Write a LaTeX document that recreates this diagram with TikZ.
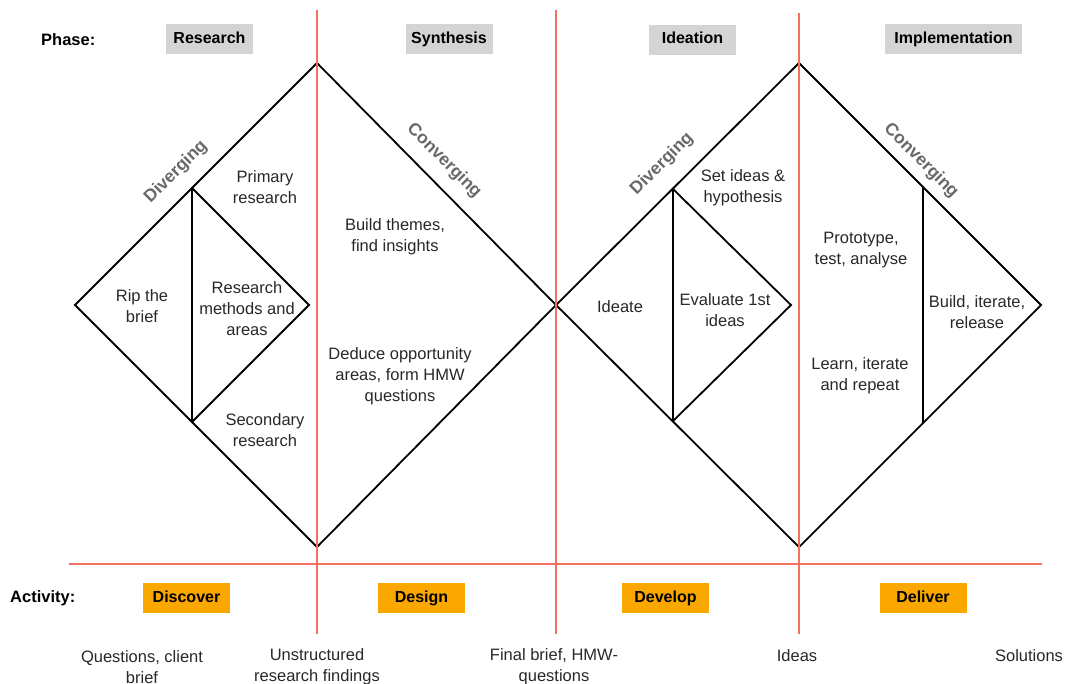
\documentclass[tikz,border=0pt]{standalone}
\usepackage{fontspec}
\setmainfont{Liberation Sans}
\definecolor{divred}{RGB}{244,112,94}
\definecolor{boxgray}{RGB}{212,212,212}
\definecolor{actorange}{RGB}{250,168,0}
\definecolor{txtgray}{RGB}{40,40,40}
\definecolor{flowgray}{RGB}{105,105,105}
\begin{document}
\begin{tikzpicture}[x=1pt,y=-1pt,
  edge/.style={draw=black,line width=1.8pt,line join=miter,line cap=round},
  splitline/.style={draw=black,line width=2.4pt},
  divider/.style={draw=divred,line width=1.8pt},
  txt/.style={align=center,text=txtgray,inner sep=0pt,font=\fontsize{16.5}{21}\selectfont},
  rowlabel/.style={anchor=west,inner sep=0pt,text=black,font=\bfseries\fontsize{16.5}{20}\selectfont},
  phasebox/.style={fill=boxgray,minimum width=87pt,minimum height=30pt,inner sep=0pt,
    text height=12pt,text depth=3.5pt,text=black,font=\bfseries\fontsize{16}{19}\selectfont},
  actbox/.style={phasebox,fill=actorange},
  flowword/.style={text=flowgray,inner sep=0pt,font=\bfseries\fontsize{17.5}{20}\selectfont}
]
\useasboundingbox (0,0) rectangle (1067,683);

% ---- first double diamond: Research | Synthesis
\coordinate (aT) at (317,63);
\coordinate (aL) at (75,305);
\coordinate (aB) at (317,547);
\coordinate (mid) at (556,305);
\coordinate (aiT) at (192,188);
\coordinate (aiR) at (309,305);
\coordinate (aiB) at (192,422);
\draw[edge] (aT) -- (aL) -- (aB) -- (mid) -- cycle;
\draw[edge] (aiT) -- (aiR) -- (aiB);
\draw[splitline] (aiT) -- (aiB);

% ---- second double diamond: Ideation | Implementation
\coordinate (bT) at (799,63);
\coordinate (bR) at (1041,305);
\coordinate (bB) at (799,547);
\coordinate (biT) at (673,189);
\coordinate (biR) at (791,305);
\coordinate (biB) at (673,421);
\coordinate (cT) at (923,187);
\coordinate (cB) at (923,423);
\draw[edge] (mid) -- (bT) -- (bR) -- (bB) -- cycle;
\draw[edge] (biT) -- (biR) -- (biB);
\draw[splitline] (biT) -- (biB);
\draw[splitline] (cT) -- (cB);

% ---- phase dividers
\coordinate (v1t) at (317,10);  \coordinate (v1b) at (317,634);
\coordinate (v2t) at (556,10);  \coordinate (v2b) at (556,634);
\coordinate (v3t) at (799,13);  \coordinate (v3b) at (799,634);
\coordinate (hl) at (69,564);   \coordinate (hr) at (1042,564);
\draw[divider] (v1t) -- (v1b);
\draw[divider] (v2t) -- (v2b);
\draw[divider] (v3t) -- (v3b);
\draw[divider] (hl) -- (hr);

% ---- header row
\node[rowlabel] (phase) at (41,40) {Phase:};
\node[phasebox] (research) at (209.5,39) {Research};
\node[phasebox] (synthesis) at (449,39) {Synthesis};
\node[phasebox] (ideation) at (692.5,39.5) {Ideation};
\node[phasebox,minimum width=137pt] (implementation) at (953.5,39) {Implementation};

% ---- activity row
\node[rowlabel] (activity) at (10,598) {Activity:};
\node[actbox] (discover) at (186.5,598) {Discover};
\node[actbox] (design) at (421.5,598) {Design};
\node[actbox] (develop) at (665.5,598) {Develop};
\node[actbox] (deliver) at (923,598) {Deliver};

% ---- diverging / converging labels
\node[flowword,rotate=45] (div1) at (176,172) {Diverging};
\node[flowword,rotate=-45] (conv1) at (444,161) {Converging};
\node[flowword,rotate=45] (div2) at (662,164) {Diverging};
\node[flowword,rotate=-45] (conv2) at (921,161) {Converging};

% ---- step texts
\node[txt] (rip) at (142,306) {Rip the\\brief};
\node[txt] (methods) at (247,309) {Research\\methods and\\areas};
\node[txt] (primary) at (265,187) {Primary\\research};
\node[txt] (secondary) at (265,430) {Secondary\\research};
\node[txt] (themes) at (395,237) {Build themes,\\find insights};
\node[txt] (deduce) at (400,376) {Deduce opportunity\\areas, form HMW\\questions};
\node[txt] (ideate) at (620,307) {Ideate};
\node[txt] (evaluate) at (725,310) {Evaluate 1st\\ideas};
\node[txt] (setideas) at (743,188) {Set ideas \&\\hypothesis};
\node[txt] (prototype) at (861,250) {Prototype,\\test, analyse};
\node[txt] (learn) at (860,376) {Learn, iterate\\and repeat};
\node[txt] (build) at (977,312) {Build, iterate,\\release};

% ---- outputs along the bottom
\node[txt] (questions) at (142,667) {Questions, client\\brief};
\node[txt] (findings) at (317,667) {Unstructured\\research findings};
\node[txt] (finalbrief) at (554,667) {Final brief, HMW-\\questions};
\node[txt] (ideas) at (797,656) {Ideas};
\node[txt] (solutions) at (1029,656) {Solutions};
\end{tikzpicture}
\end{document}
